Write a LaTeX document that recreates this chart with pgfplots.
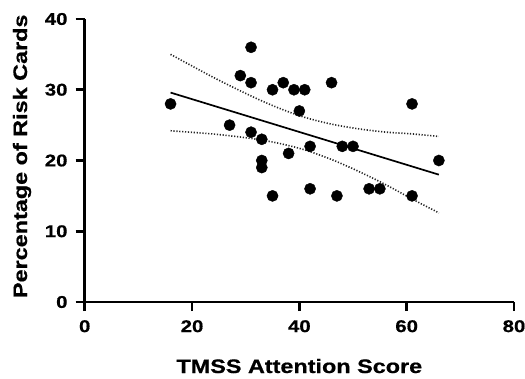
\documentclass[border=0pt]{standalone}
\usepackage{fontspec}
\setmainfont{Liberation Sans Bold}[FakeStretch=1.2, FakeBold=0.6]
\usepackage{pgfplots}
\pgfplotsset{compat=1.18}
\begin{document}
\begin{tikzpicture}
\begin{axis}[
  scale only axis,
  width=429.3bp, height=283bp,
  xmin=0, xmax=80, ymin=0, ymax=40,
  axis lines=left,
  axis line style={-, line width=2.6bp},
  xtick={0,20,40,60,80},
  ytick={0,10,20,30,40},
  tick align=outside,
  tick style={line width=2.6bp, black},
  major tick length=9bp,
  /pgf/number format/assume math mode=true,
  tick label style={font=\fontsize{17bp}{20bp}\selectfont},
  xticklabel style={anchor=north, inner sep=0pt, yshift=-9bp},
  yticklabel style={anchor=east, inner sep=0pt, xshift=-8bp},
  label style={font=\fontsize{19.5bp}{23bp}\selectfont},
  xlabel={TMSS Attention Score},
  ylabel={Percentage of Risk Cards},
  xlabel style={at={(axis description cs:0.5,-0.2509)}, anchor=base, inner sep=0pt},
  ylabel style={at={(axis description cs:-0.1344,0.515)}, anchor=base, inner sep=0pt},
  clip=false,
]
% confidence band (upper)
\addplot[black!85, line width=1.6bp, dash pattern=on 1.2bp off 1.7bp, smooth] coordinates {
(16,35.0) (24,31.74) (31,29.12) (36,27.46) (41,26.1) (46,25.14) (51,24.48) (56,24.02) (61,23.76) (66,23.4)};
% confidence band (lower)
\addplot[black!85, line width=1.6bp, dash pattern=on 1.2bp off 1.7bp, smooth] coordinates {
(16,24.2) (24,23.74) (31,23.12) (36,22.46) (41,21.5) (46,20.14) (51,18.48) (56,16.62) (61,14.56) (66,12.6)};
% regression line
\addplot[black, line width=1.7bp] coordinates {(16,29.6) (66,18.0)};
% data
\addplot[only marks, mark=*, mark size=5.6bp, black] coordinates {
(16,28) (27,25) (29,32) (31,36) (31,31) (31,24) (33,23) (33,20) (33,19)
(35,30) (35,15) (37,31) (38,21) (39,30) (40,27) (41,30) (42,22) (42,16)
(46,31) (47,15) (48,22) (50,22) (53,16) (55,16) (61,28) (61,15) (66,20)};
\end{axis}
\pgfresetboundingbox
\path[use as bounding box] (current axis.south west) ++(-84.7bp,-77bp) rectangle ++(525bp,379bp);
\end{tikzpicture}
\end{document}
